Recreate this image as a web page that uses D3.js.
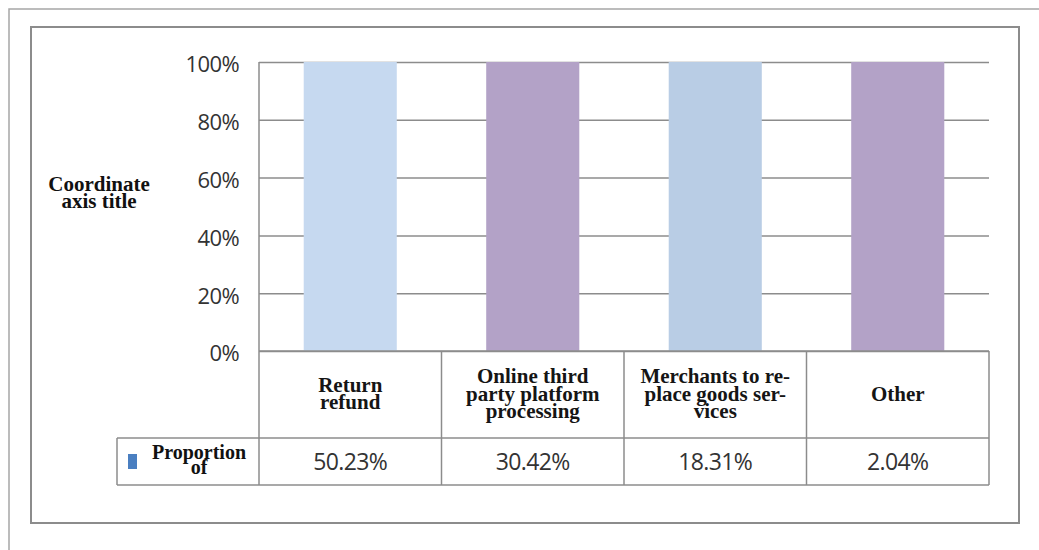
<!DOCTYPE html>
<html>
<head>
<meta charset="utf-8">
<script src="https://cdn.jsdelivr.net/npm/d3@7"></script>
<style>
  html, body { margin: 0; padding: 0; background: #ffffff; }
  svg { display: block; }
  .tick text { font-family: "Open Sans", "Liberation Sans", sans-serif; }
</style>
</head>
<body>
<div id="chart"></div>
<script>
// Survey categories and the share of respondents choosing each one
const categories = [
  ["Return", "refund"],
  ["Online third", "party platform", "processing"],
  ["Merchants to re-", "place goods ser-", "vices"],
  ["Other"]
];
const seriesName = ["Proportion", "of"];
const proportion = [50.23, 30.42, 18.31, 2.04];
const yTicks = [0, 0.2, 0.4, 0.6, 0.8, 1];
const barColors = ["#c6d9f0", "#b3a2c7", "#b9cde5", "#b3a2c7"];

const W = 1039, H = 550;
const plot = { left: 259, right: 989, top: 62, bottom: 351 };
const headerBottom = 438, tableBottom = 485, legendLeft = 117;

const svg = d3.select("#chart").append("svg")
  .attr("width", W).attr("height", H);

// outer page frame (top and left edges) and chart border
svg.append("path")
  .attr("d", `M9,${H} V9 H${W}`)
  .attr("fill", "none").attr("stroke", "#a6a6a6").attr("stroke-width", 1.5);
svg.append("rect")
  .attr("x", 31).attr("y", 27).attr("width", 988).attr("height", 496)
  .attr("fill", "none").attr("stroke", "#8c8c8c").attr("stroke-width", 2);

// 100% stacked columns: each category's single series is normalised to its own total
const rows = categories.map((c, i) => ({ key: i, value: proportion[i] }));
const stacked = d3.stack().keys(["value"]).offset(d3.stackOffsetExpand)
  .value((d, k) => d[k])(rows);

const x = d3.scaleBand().domain(d3.range(categories.length))
  .range([plot.left, plot.right]).paddingInner(0.49).paddingOuter(0.245);
const y = d3.scaleLinear().domain([0, 1]).range([plot.bottom, plot.top]);

// gridlines with percentage tick labels
const yAxis = svg.append("g")
  .attr("transform", `translate(${plot.left},0)`)
  .call(d3.axisLeft(y).tickValues(yTicks).tickFormat(d3.format(".0%"))
    .tickSize(-(plot.right - plot.left)).tickPadding(20));
yAxis.select(".domain").remove();
yAxis.selectAll(".tick line").attr("stroke", "#8c8c8c").attr("stroke-width", 1.5);
yAxis.selectAll(".tick text")
  .attr("font-size", 22).attr("fill", "#333").attr("letter-spacing", -0.6)
  .attr("dy", "0.45em");

// vertical axis line
svg.append("line")
  .attr("x1", plot.left).attr("x2", plot.left)
  .attr("y1", plot.top).attr("y2", plot.bottom)
  .attr("stroke", "#8c8c8c").attr("stroke-width", 1.5);

// bars
svg.append("g").selectAll("rect")
  .data(stacked[0])
  .join("rect")
  .attr("x", (d, i) => x(i))
  .attr("width", x.bandwidth())
  .attr("y", d => y(d[1]))
  .attr("height", d => y(d[0]) - y(d[1]))
  .attr("fill", (d, i) => barColors[i]);

// axis title
const title = svg.append("text")
  .attr("text-anchor", "middle")
  .attr("font-family", "'Liberation Serif', 'DejaVu Serif', serif")
  .attr("font-weight", "bold").attr("font-size", 21).attr("fill", "#111");
title.append("tspan").attr("x", 99).attr("y", 191).text("Coordinate");
title.append("tspan").attr("x", 99).attr("y", 208).text("axis title");

// data table beneath the chart
const colEdges = d3.range(categories.length + 1).map(i =>
  plot.left + i * (plot.right - plot.left) / categories.length);
const tableLines = svg.append("g")
  .attr("stroke", "#8c8c8c").attr("stroke-width", 1.5).attr("fill", "none");
tableLines.append("line").attr("x1", plot.left).attr("x2", plot.right)
  .attr("y1", plot.bottom).attr("y2", plot.bottom);
tableLines.append("line").attr("x1", legendLeft).attr("x2", plot.right)
  .attr("y1", headerBottom).attr("y2", headerBottom);
tableLines.append("line").attr("x1", legendLeft).attr("x2", plot.right)
  .attr("y1", tableBottom).attr("y2", tableBottom);
tableLines.append("line").attr("x1", legendLeft).attr("x2", legendLeft)
  .attr("y1", headerBottom).attr("y2", tableBottom);
colEdges.forEach(cx => {
  tableLines.append("line").attr("x1", cx).attr("x2", cx)
    .attr("y1", plot.bottom).attr("y2", tableBottom);
});

const colCenter = i => (colEdges[i] + colEdges[i + 1]) / 2;
const headerMid = (plot.bottom + headerBottom) / 2;
const lineH = 17.5;

categories.forEach((lines, i) => {
  const t = svg.append("text")
    .attr("text-anchor", "middle")
    .attr("font-family", "'Liberation Serif', 'DejaVu Serif', serif")
    .attr("font-weight", "bold").attr("font-size", 21).attr("fill", "#151515");
  const y0 = headerMid - (lines.length - 1) * lineH / 2 + 6;
  lines.forEach((ln, j) => {
    t.append("tspan").attr("x", colCenter(i)).attr("y", y0 + j * lineH).text(ln);
  });
});

const valueMid = (headerBottom + tableBottom) / 2;
svg.append("g").selectAll("text")
  .data(proportion)
  .join("text")
  .attr("x", (d, i) => colCenter(i))
  .attr("y", valueMid + 8)
  .attr("text-anchor", "middle")
  .attr("font-family", "'Open Sans', 'Liberation Sans', sans-serif")
  .attr("font-size", 23).attr("letter-spacing", -0.6).attr("fill", "#333")
  .text(d => d3.format(".2f")(d) + "%");

// legend key in the table's row header
svg.append("rect")
  .attr("x", 128).attr("y", 454).attr("width", 9).attr("height", 15)
  .attr("fill", "#4a7fc1");
const lg = svg.append("text")
  .attr("text-anchor", "middle")
  .attr("font-family", "'Liberation Serif', 'DejaVu Serif', serif")
  .attr("font-weight", "bold").attr("font-size", 20).attr("fill", "#111");
seriesName.forEach((s, j) => {
  lg.append("tspan").attr("x", 199).attr("y", 459 + j * 15).text(s);
});
</script>
</body>
</html>
